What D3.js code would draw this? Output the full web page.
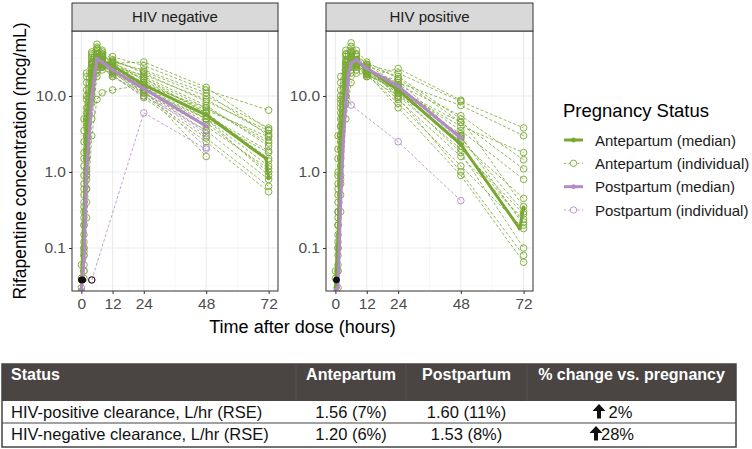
<!DOCTYPE html>
<html>
<head>
<meta charset="utf-8">
<script src="https://cdn.jsdelivr.net/npm/d3@7"></script>
<style>
  body { margin: 0; background: #fff; }
  text { font-family: "Liberation Sans", Arial, sans-serif; }
</style>
</head>
<body>
<div id="viz"></div>
<script>
// ---- data ----
const panels = ["HIV negative", "HIV positive"];
const xTicks = [0, 12, 24, 48, 72];
const xMinor = [6, 18, 36, 60];
const yTicks = [0.1, 1, 10];
const yTickLabels = ["0.1", "1.0", "10.0"];
const yMinor = [0.0316, 0.316, 3.16, 31.6];

// sampling times of the individual profiles (hours)
const sampleTimes = [0, 1, 2, 4, 6, 8, 12, 24, 48, 72];

// HIV negative, antepartum individuals (mcg/mL)
const negAnte = [
  [null, 0.05, 0.6, 12, 35, 38, 30, 20, 8.5, 3.5],
  [null, 0.3, 4, 28, 42, 36, 28, 16, 6, 1.4],
  [0.04, 0.12, 1.5, 20, 40, 32, 25, 13, 4.5, 1.0],
  [null, 1.2, 9, 30, 36, 30, 22, 11, 3.5, 0.8],
  [null, 0.08, 0.9, 8, 25, 33, 29, 21, 10, 3.8],
  [null, 2.5, 15, 38, 48, 40, 33, 25, 12, 6.5],
  [null, 0.5, 5, 22, 30, 27, 20, 12, 5, 1.8],
  [0.06, 0.2, 2, 15, 28, 30, 26, 17, 7, 2.6],
  [null, 0.9, 7, 26, 32, 28, 23, 14, 5.5, 1.9],
  [null, 0.15, 1.8, 14, 22, 25, 21, 10, 2.8, 0.65],
  [null, 3.5, 18, 32, 29, 26, 19, 9.5, 2.5, 0.55],
  [null, 0.06, 0.4, 5, 18, 24, 24, 19, 9, 3.2],
  [null, 0.7, 6, 24, 38, 34, 27, 18, 7.5, 2.2],
  [0.03, 0.1, 1.1, 10, 20, 22, 20, 15, 6.5, 2.9],
  [null, 1.8, 12, 34, 44, 35, 28, 22, 11, 3.0],
  [null, 0.35, 3, 18, 26, 24, 18, 11, 4, 1.1],
  [null, 0.04, 0.25, 3, 9, 11, 12, 14, 7, 2.4],
  [null, 5, 20, 36, 33, 29, 22, 13, 5, 0.9],
  [null, 0.6, 4.5, 16, 24, 27, 24, 17, 6, 1.5],
  [null, 0.25, 2.5, 20, 30, 31, 27, 28, 13, 3.6],
  [null, 1.5, 10, 27, 31, 26, 21, 12, 1.6, null],
  [null, 0.09, 0.8, 9, 22, 28, 25, 15, 5, 1.2]
];

// HIV negative, postpartum individuals
const negPost = [
  [null, 0.05, 1, 12, 32, 30, 23, 13, 4.2, null],
  [null, 0.2, 3, 20, 28, 25, 20, 11, 3.0, null],
  [0.027, 0.08, 0.6, 6, 22, 27, 22, 12, 2.1, null],
  [null, null, null, 0.038, null, null, null, 6.0, 2.0, null],
  [null, 0.4, 5, 26, 30, 24, 18, 10, 3.5, null],
  [null, 0.1, 1.5, 14, 25, 26, 21, 12.5, 3.2, null]
];

// HIV positive, antepartum individuals
const posAnte = [
  [null, 0.2, 3, 25, 40, 35, 26, 20, 8.5, 3.8],
  [null, 1, 10, 35, 38, 30, 22, 15, 7.5, 3.0],
  [0.04, 0.1, 1.5, 18, 30, 28, 22, 12, 4, 1.8],
  [null, 0.5, 6, 28, 45, 36, 26, 14, 5.5, 1.45],
  [null, 2, 15, 40, 50, 40, 28, 17, 4.5, 1.1],
  [null, 0.08, 0.9, 12, 25, 30, 24, 13, 3.5, 0.8],
  [null, 0.3, 4, 22, 32, 28, 21, 11, 2.5, 0.45],
  [null, 0.15, 2, 20, 34, 30, 23, 10, 2.0, 0.28],
  [null, 0.7, 8, 30, 36, 29, 20, 9, 1.6, 0.24],
  [null, 0.05, 0.5, 8, 22, 27, 22, 12.5, 3.0, 0.2],
  [null, 1.5, 12, 33, 31, 25, 19, 8, 1.2, 0.18],
  [null, 0.25, 3, 19, 28, 26, 20, 11, 1.8, 0.1],
  [null, 0.4, 5, 24, 35, 30, 24, 9.5, 1.0, 0.08],
  [0.05, 0.12, 1.2, 14, 26, 25, 20, 7, 0.9, 0.065],
  [null, 3, 18, 36, 33, 27, 18, 23, 8.8, null],
  [null, 0.06, 0.7, 10, 20, 22, 19, 12, 4.5, null],
  [null, 0.9, 9, 28, 30, 24, 18, 10, 3.2, null],
  [null, 0.2, 2.5, 16, 24, 25, 21, 16, 2.8, 0.3],
  [null, 0.6, 7, 26, 38, 33, 25, 18, 5, 0.35],
  [null, 0.03, 0.3, 5, 15, 20, 19, 12, 2.2, 0.22]
];

// HIV positive, postpartum individuals
const posPost = [
  [null, 0.05, 0.8, 10, 28, 30, 24, 13.5, 2.8, null],
  [null, 0.3, 4, 22, 30, 26, 20, 12, 3.0, null],
  [null, 0.1, 1.5, 15, 25, 28, 22, 14, 2.5, null],
  [null, 0.3, 3, 15, 7.6, null, null, 2.5, 0.42, null]
];

// medians
const negAnteMedTimes = [0, 1, 2, 3, 4, 5, 6, 8, 12, 24, 48, 71, 72];
const negAnteMed = [0.028, 0.3, 2.5, 10, 22, 31, 32, 29, 25, 14, 5.6, 1.5, 0.83];
const negPostMedTimes = [0, 1, 2, 3, 4, 6, 8, 12, 24, 48];
const negPostMed = [0.028, 0.07, 1.0, 3.0, 10, 31, 28, 22, 12.5, 4.0];
const posAnteMedTimes = [0, 1, 2, 3, 4, 5, 6, 8, 12, 24, 48, 70.5, 72];
const posAnteMed = [0.03, 0.15, 1.5, 6, 15, 24, 29, 29, 23, 12, 2.3, 0.18, 0.34];
const posPostMedTimes = [0, 1, 2, 3, 4, 5, 6, 8, 12, 24, 48];
const posPostMed = [0.028, 0.03, 0.4, 2.5, 8, 20, 27, 30, 23, 13.5, 2.8];

// below-quantification points (shown in black)
const blqValue = 0.038;
const negBlqFilled = [0, 0.5];
const negBlqOpen = [4];
const posBlqFilled = [0.4];

const legendLabels = ["Antepartum (median)", "Antepartum (individual)", "Postpartum (median)", "Postpartum (individual)"];

// table
const tableHeader = ["Status", "Antepartum", "Postpartum", "% change vs. pregnancy"];
const statusLabels = ["HIV-positive clearance, L/hr (RSE)", "HIV-negative clearance, L/hr (RSE)"];
const antepartumCl = ["1.56 (7%)", "1.20 (6%)"];
const postpartumCl = ["1.60 (11%)", "1.53 (8%)"];
const changeCl = [" 2%", "28%"];

// ---- drawing ----
const width = 752, height = 449;
const green = "#78a832", purple = "#b28ac6";
const panelTop = 31, panelBottom = 291;
const panelX = [[72, 278], [326, 533]];

const svg = d3.select("#viz").append("svg")
  .attr("width", width).attr("height", height)
  .style("background-color", "white");

const y = d3.scaleLog().domain([0.0272, 71.6]).range([panelBottom, panelTop]);

function toPoints(row) {
  return sampleTimes.map((t, i) => ({t: t, v: row[i]})).filter(d => d.v != null);
}

function drawPanel(i, ante, post, aMedT, aMed, pMedT, pMed, blqF, blqO) {
  const x = d3.scaleLinear().domain([-3.6, 75.6]).range(panelX[i]);
  const g = svg.append("g");
  const clipId = "clip" + i;
  svg.append("clipPath").attr("id", clipId).append("rect")
    .attr("x", panelX[i][0]).attr("y", panelTop)
    .attr("width", panelX[i][1] - panelX[i][0]).attr("height", panelBottom - panelTop);

  // grid
  g.selectAll(".xminor").data(xMinor).enter().append("line")
    .attr("x1", d => x(d)).attr("x2", d => x(d))
    .attr("y1", panelTop).attr("y2", panelBottom)
    .attr("stroke", "#f2f2f2").attr("stroke-width", 0.6);
  g.selectAll(".yminor").data(yMinor).enter().append("line")
    .attr("x1", panelX[i][0]).attr("x2", panelX[i][1])
    .attr("y1", d => y(d)).attr("y2", d => y(d))
    .attr("stroke", "#f2f2f2").attr("stroke-width", 0.6);
  g.selectAll(".xmajor").data(xTicks).enter().append("line")
    .attr("x1", d => x(d)).attr("x2", d => x(d))
    .attr("y1", panelTop).attr("y2", panelBottom)
    .attr("stroke", "#ebebeb").attr("stroke-width", 1.1);
  g.selectAll(".ymajor").data(yTicks).enter().append("line")
    .attr("x1", panelX[i][0]).attr("x2", panelX[i][1])
    .attr("y1", d => y(d)).attr("y2", d => y(d))
    .attr("stroke", "#ebebeb").attr("stroke-width", 1.1);

  const plot = g.append("g").attr("clip-path", "url(#" + clipId + ")");
  const line = d3.line().x(d => x(d.t)).y(d => y(d.v));

  function individuals(rows, color) {
    rows.forEach(row => {
      const pts = toPoints(row);
      plot.append("path").datum(pts)
        .attr("d", line)
        .attr("fill", "none")
        .attr("stroke", color)
        .attr("stroke-width", 0.8)
        .attr("stroke-dasharray", "3,2");
      plot.selectAll(null).data(pts).enter().append("circle")
        .attr("cx", d => x(d.t)).attr("cy", d => y(d.v)).attr("r", 3.3)
        .attr("fill", "none").attr("stroke", color).attr("stroke-width", 0.9);
    });
  }
  individuals(post, purple);
  individuals(ante, green);

  function median(times, vals, color) {
    const pts = times.map((t, k) => ({t: t, v: vals[k]}));
    plot.append("path").datum(pts)
      .attr("d", line)
      .attr("fill", "none").attr("stroke", color)
      .attr("stroke-width", 3).attr("stroke-linejoin", "round");
    plot.selectAll(null).data(pts).enter().append("circle")
      .attr("cx", d => x(d.t)).attr("cy", d => y(d.v)).attr("r", 2)
      .attr("fill", color);
  }
  median(aMedT, aMed, green);
  median(pMedT, pMed, purple);

  plot.selectAll(null).data(blqF).enter().append("circle")
    .attr("cx", d => x(d)).attr("cy", y(blqValue)).attr("r", 3)
    .attr("fill", "#111").attr("stroke", "#111");
  plot.selectAll(null).data(blqO).enter().append("circle")
    .attr("cx", d => x(d)).attr("cy", y(blqValue)).attr("r", 3.2)
    .attr("fill", "none").attr("stroke", "#111").attr("stroke-width", 1);

  // border
  g.append("rect")
    .attr("x", panelX[i][0]).attr("y", panelTop)
    .attr("width", panelX[i][1] - panelX[i][0]).attr("height", panelBottom - panelTop)
    .attr("fill", "none").attr("stroke", "#333").attr("stroke-width", 1);

  // strip
  g.append("rect")
    .attr("x", panelX[i][0]).attr("y", 3)
    .attr("width", panelX[i][1] - panelX[i][0]).attr("height", panelTop - 3)
    .attr("fill", "#d9d9d9").attr("stroke", "#333").attr("stroke-width", 1);
  g.append("text")
    .attr("x", (panelX[i][0] + panelX[i][1]) / 2).attr("y", 22)
    .attr("text-anchor", "middle").attr("font-size", 15).attr("fill", "#1a1a1a")
    .text(panels[i]);

  // x axis
  const xAxis = g.append("g").attr("transform", "translate(0," + panelBottom + ")")
    .call(d3.axisBottom(x).tickValues(xTicks).tickSize(3).tickPadding(4));
  xAxis.select(".domain").remove();
  xAxis.selectAll("line").attr("stroke", "#333");
  xAxis.selectAll("text").attr("font-size", 15.5).attr("fill", "#4d4d4d")
    .style("font-family", '"Liberation Sans", Arial, sans-serif');

  // y axis
  const yAxis = g.append("g").attr("transform", "translate(" + panelX[i][0] + ",0)")
    .call(d3.axisLeft(y).tickValues(yTicks).tickSize(3).tickPadding(3)
      .tickFormat((d, k) => yTickLabels[k]));
  yAxis.select(".domain").remove();
  yAxis.selectAll("line").attr("stroke", "#333");
  yAxis.selectAll("text").attr("font-size", 15.5).attr("fill", "#4d4d4d")
    .style("font-family", '"Liberation Sans", Arial, sans-serif');
}

drawPanel(0, negAnte, negPost, negAnteMedTimes, negAnteMed, negPostMedTimes, negPostMed, negBlqFilled, negBlqOpen);
drawPanel(1, posAnte, posPost, posAnteMedTimes, posAnteMed, posPostMedTimes, posPostMed, posBlqFilled, []);

// axis titles
svg.append("text")
  .attr("transform", "translate(26," + (panelTop + panelBottom) / 2 + ") rotate(-90)")
  .attr("text-anchor", "middle").attr("font-size", 17.5).attr("fill", "#000")
  .text("Rifapentine concentration (mcg/mL)");
svg.append("text")
  .attr("x", (panelX[0][0] + panelX[1][1]) / 2).attr("y", 333)
  .attr("text-anchor", "middle").attr("font-size", 18).attr("fill", "#000")
  .text("Time after dose (hours)");

// legend
const legend = svg.append("g");
legend.append("text").attr("x", 563).attr("y", 117)
  .attr("font-size", 18.5).attr("fill", "#000").text("Pregnancy Status");
const legendColors = [green, green, purple, purple];
const legendY = [140, 163.3, 186.7, 210];
legendLabels.forEach((lab, k) => {
  const cy = legendY[k];
  const isMedian = k % 2 === 0;
  legend.append("line")
    .attr("x1", 564).attr("x2", 583).attr("y1", cy).attr("y2", cy)
    .attr("stroke", legendColors[k])
    .attr("stroke-width", isMedian ? 3 : 0.9)
    .attr("stroke-dasharray", isMedian ? null : "2,2.5");
  legend.append("circle").attr("cx", 573.5).attr("cy", cy)
    .attr("r", isMedian ? 2 : 3.2)
    .attr("fill", isMedian ? legendColors[k] : "white")
    .attr("stroke", legendColors[k]).attr("stroke-width", 0.9);
  legend.append("text").attr("x", 595).attr("y", cy + 5.5)
    .attr("font-size", 15).attr("fill", "#1a1a1a").text(lab);
});

// table
const tbl = svg.append("g");
const tLeft = 2, tRight = 736;
const colEdges = [2, 296, 406, 527, 736];
const rowEdges = [364, 401, 423, 447];
tbl.append("rect").attr("x", tLeft).attr("y", rowEdges[0])
  .attr("width", tRight - tLeft).attr("height", rowEdges[1] - rowEdges[0])
  .attr("fill", "#4a4542");
tbl.selectAll(null).data(colEdges.slice(1, 4)).enter().append("line")
  .attr("x1", d => d).attr("x2", d => d)
  .attr("y1", rowEdges[0]).attr("y2", rowEdges[1])
  .attr("stroke", "#57524f").attr("stroke-width", 1);
tableHeader.forEach((h, c) => {
  tbl.append("text")
    .attr("x", c === 0 ? 11 : (colEdges[c] + colEdges[c + 1]) / 2)
    .attr("y", 380)
    .attr("text-anchor", c === 0 ? "start" : "middle")
    .attr("font-size", 16).attr("font-weight", "bold").attr("fill", "#fff")
    .text(h);
});
tbl.selectAll(null).data([rowEdges[2]]).enter().append("line")
  .attr("x1", tLeft).attr("x2", tRight).attr("y1", d => d).attr("y2", d => d)
  .attr("stroke", "#444").attr("stroke-width", 1.2);
tbl.append("rect").attr("x", tLeft).attr("y", rowEdges[0])
  .attr("width", tRight - tLeft).attr("height", rowEdges[3] - rowEdges[0])
  .attr("fill", "none").attr("stroke", "#444").attr("stroke-width", 1.5);

statusLabels.forEach((lab, r) => {
  const base = rowEdges[r + 1] + 16.5;
  tbl.append("text").attr("x", 11).attr("y", base)
    .attr("font-size", 16.5).attr("fill", "#111").text(lab);
  tbl.append("text").attr("x", (colEdges[1] + colEdges[2]) / 2).attr("y", base)
    .attr("text-anchor", "middle").attr("font-size", 16.5).attr("fill", "#111").text(antepartumCl[r]);
  tbl.append("text").attr("x", (colEdges[2] + colEdges[3]) / 2).attr("y", base)
    .attr("text-anchor", "middle").attr("font-size", 16.5).attr("fill", "#111").text(postpartumCl[r]);
  // up arrow
  const ax = r === 0 ? 599 : 596;
  tbl.append("path")
    .attr("d", `M${ax},${base - 13.5} L${ax + 6.5},${base - 6.5} L${ax + 2},${base - 6.5} L${ax + 2},${base + 1} L${ax - 2},${base + 1} L${ax - 2},${base - 6.5} L${ax - 6.5},${base - 6.5} Z`)
    .attr("fill", "#111");
  tbl.append("text").attr("x", ax + 5).attr("y", base)
    .attr("font-size", 16.5).attr("fill", "#111").attr("xml:space", "preserve")
    .style("white-space", "pre").text(changeCl[r]);
});
</script>
</body>
</html>
